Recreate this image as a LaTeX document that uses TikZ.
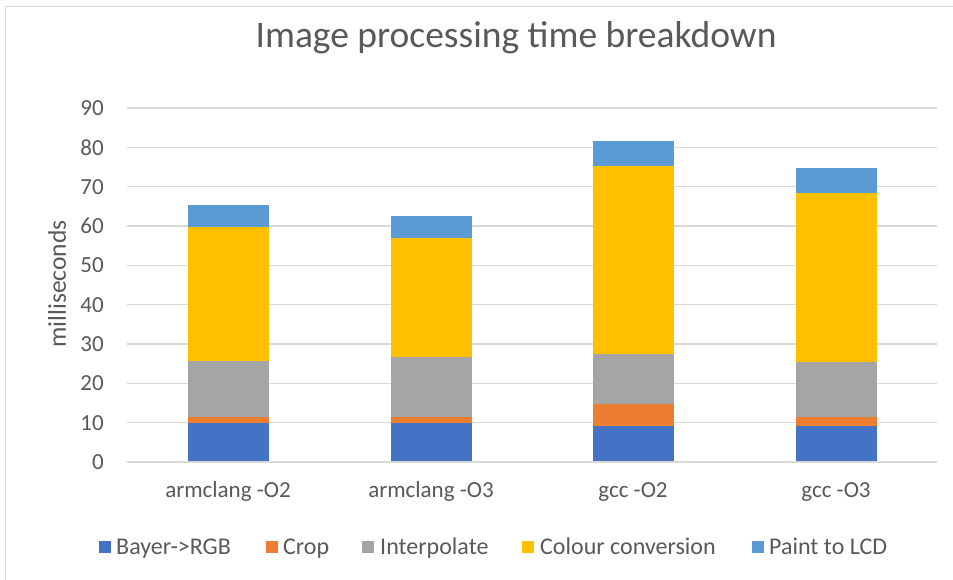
\documentclass[tikz,border=0pt]{standalone}
\usepackage{fontspec}
\setmainfont{Carlito}
\definecolor{cBayer}{HTML}{4472C4}
\definecolor{cCrop}{HTML}{ED7D31}
\definecolor{cInterp}{HTML}{A5A5A5}
\definecolor{cColour}{HTML}{FFC000}
\definecolor{cPaint}{HTML}{5B9BD5}
\definecolor{txt}{HTML}{595959}
\definecolor{gridc}{HTML}{D9D9D9}
\begin{document}
\begin{tikzpicture}[x=1pt,y=1pt,
  lbl/.style={text=txt, font=\fontsize{23}{27}\selectfont, inner sep=0pt},
  xlbl/.style={text=txt, font=\fontsize{23}{27}\selectfont, inner sep=0pt, anchor=base},
  leg/.style={text=txt, font=\fontsize{24}{28}\selectfont, inner sep=0pt, anchor=base west},
  gridline/.style={draw=gridc, line width=1.2pt},
  legsq/.style={inner sep=0pt, minimum size=12pt}]
\useasboundingbox (0,0) rectangle (953,580);
\fill[white] (0,0) rectangle (953,580);
\draw[draw=gridc, line width=1pt] (5.5,-1) -- (5.5,573) -- (954,573);
% title
\node[text=txt, font=\fontsize{37.5}{44}\selectfont, inner sep=0pt] (title) at (516,542) {Image processing time breakdown};
% y label
\node[text=txt, font=\fontsize{25.5}{30}\selectfont, inner sep=0pt, rotate=90] (ylab) at (57,296) {milliseconds};
\begin{scope}[yshift=118pt, y=3.9333pt]
  \foreach \v in {0,10,...,90} {
    \draw[gridline] (127,\v) -- (937,\v);
    \node[lbl, anchor=east] (tick\v) at (104,\v) {\v};
  }
  % bars: center, cumulative tops of Bayer, Crop, Interp, Colour, Paint
  \foreach \c/\a/\b/\d/\e/\f [count=\i] in {228/9.8/11.5/25.7/59.75/65.3, 431/9.8/11.5/26.6/56.95/62.5, 633/9.2/14.7/27.4/75.3/81.7, 836/9.2/11.4/25.3/68.4/74.8} {
    \fill[cBayer]  (\c-40.5,0)  rectangle (\c+40.5,\a);
    \fill[cCrop]   (\c-40.5,\a) rectangle (\c+40.5,\b);
    \fill[cInterp] (\c-40.5,\b) rectangle (\c+40.5,\d);
    \fill[cColour] (\c-40.5,\d) rectangle (\c+40.5,\e);
    \fill[cPaint]  (\c-40.5,\e) rectangle (\c+40.5,\f);
  }
  \draw[gridline] (127,0) -- (937,0);
\end{scope}
% x labels
\node[xlbl] (x1) at (228,82) {armclang -O2};
\node[xlbl] (x2) at (431,82) {armclang -O3};
\node[xlbl] (x3) at (633,82) {gcc -O2};
\node[xlbl] (x4) at (836,82) {gcc -O3};
% legend
\node[legsq, fill=cBayer] (s1) at (105,33) {};
\node[leg] (l1) at (116,25) {Bayer->RGB};
\node[legsq, fill=cCrop] (s2) at (272,33) {};
\node[leg] (l2) at (283,25) {Crop};
\node[legsq, fill=cInterp] (s3) at (368,33) {};
\node[leg] (l3) at (380,25) {Interpolate};
\node[legsq, fill=cColour] (s4) at (528,33) {};
\node[leg] (l4) at (540,25) {Colour conversion};
\node[legsq, fill=cPaint] (s5) at (758,33) {};
\node[leg] (l5) at (769,25) {Paint to LCD};
\end{tikzpicture}
\end{document}
